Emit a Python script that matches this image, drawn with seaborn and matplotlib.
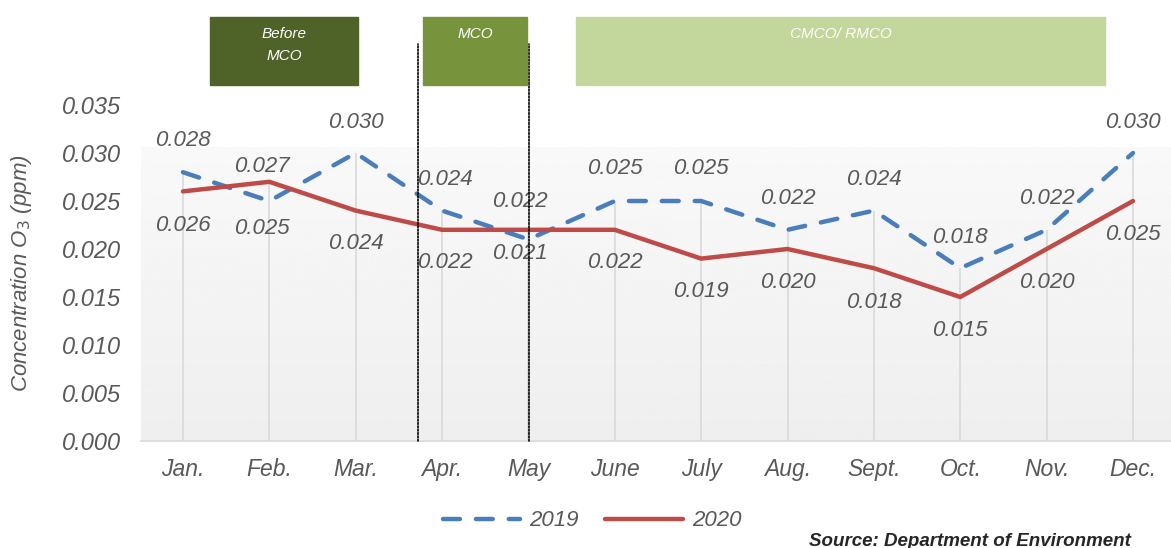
import numpy as np
import pandas as pd
import seaborn as sns
import matplotlib.pyplot as plt
import matplotlib.transforms as mtransforms

# Data
months = ["Jan.", "Feb.", "Mar.", "Apr.", "May", "June", "July", "Aug.", "Sept.", "Oct.", "Nov.", "Dec."]
o3_2019 = [0.028, 0.025, 0.030, 0.024, 0.021, 0.025, 0.025, 0.022, 0.024, 0.018, 0.022, 0.030]
o3_2020 = [0.026, 0.027, 0.024, 0.022, 0.022, 0.022, 0.019, 0.020, 0.018, 0.015, 0.020, 0.025]
years = ["2019", "2020"]
yticks = [0.000, 0.005, 0.010, 0.015, 0.020, 0.025, 0.030, 0.035]

# phase boxes above the plot: (label, start, end) in category units
phases = [("Before\nMCO", 0.31, 2.03), ("MCO", 2.78, 3.98), ("CMCO/ RMCO", 4.55, 10.68)]
phase_colors = ["#4f6228", "#77933c", "#c3d69b"]
mco_bounds = [2.72, 4.01]

# label offsets in pixels (dx, dy) -- style only
off_2019 = [(0, 32), (-7, -27), (0, 31), (3, 31), (-9, -14), (0, 32), (0, 32), (0, 31), (0, 31), (0, 31), (0, 31), (0, 31)]
off_2020 = [(0, -34), (-7, 15), (0, -33), (3, -33), (-9, 28), (0, -33), (0, -33), (0, -33), (0, -34), (0, -33), (0, -33), (0, -34)]

df = pd.DataFrame({
    "month": months * 2,
    "o3": o3_2019 + o3_2020,
    "year": [years[0]] * 12 + [years[1]] * 12,
})

sns.set_style("white")
plt.rcParams["font.family"] = ["Liberation Sans", "DejaVu Sans"]
plt.rcParams["lines.dash_capstyle"] = "round"

grey = "#595959"
fig = plt.figure(figsize=(11.71, 5.48), dpi=100)
ax = fig.add_axes([141 / 1171, 1 - 441 / 548, 1030 / 1171, 336 / 548])

x0, x1 = -0.486, 11.44
# gradient background of the plot area
grad = np.linspace(0.975, 0.935, 200).reshape(-1, 1)
ax.imshow(grad, cmap="gray", vmin=0, vmax=1, extent=[x0, x1, 0, 0.0306],
          aspect="auto", origin="upper", zorder=0)

# drop lines
tops = np.maximum(o3_2019, o3_2020)
ax.vlines(range(len(months)), 0, tops, color="#d9d9d9", lw=1.2, zorder=1)

sns.lineplot(data=df, x="month", y="o3", hue="year", style="year", sort=False,
             palette={"2019": "#4a7ebb", "2020": "#be4b48"},
             dashes={"2019": (3.8, 3.6), "2020": ""}, linewidth=3.2,
             ax=ax, legend=True, zorder=3)
handles, labels = ax.get_legend_handles_labels()
ax.get_legend().remove()

# data labels
for vals, offs in [(o3_2019, off_2019), (o3_2020, off_2020)]:
    for i, (v, (dx, dy)) in enumerate(zip(vals, offs)):
        ax.annotate(f"{v:.3f}", (i, v), xytext=(dx * 0.72, dy * 0.72), textcoords="offset points",
                    ha="center", va="center", fontsize=16, style="italic", color=grey, zorder=4)

ax.set_xlim(x0, x1)
ax.set_ylim(0, 0.035)
ax.set_yticks(yticks)
ax.set_yticklabels([f"{t:.3f}" for t in yticks], fontsize=17, style="italic", color=grey)
ax.set_xticks(range(len(months)))
ax.set_xticklabels(months, fontsize=16.5, style="italic", color=grey)
ax.tick_params(length=0, pad=12)
ax.tick_params(axis="y", pad=14)
ax.set_xlabel("")
ax.set_ylabel("Concentration O$_3$ (ppm)", fontsize=16, style="italic", color=grey)
ax.yaxis.set_label_coords(-0.104, 0.5)
for s in ["top", "right", "left"]:
    ax.spines[s].set_visible(False)
ax.spines["bottom"].set_color("#d9d9d9")
ax.spines["bottom"].set_linewidth(1.2)

# phase boxes and MCO boundaries
trans = mtransforms.blended_transform_factory(ax.transData, fig.transFigure)
for (name, a, b), c in zip(phases, phase_colors):
    fig.patches.append(plt.Rectangle((a, 1 - 85 / 548), b - a, 68 / 548, transform=trans,
                                     color=c, zorder=1))
    fig.text((a + b) / 2, 1 - 27 / 548, name, transform=trans, ha="center", va="top",
             fontsize=11, style="italic", color="white", linespacing=1.75)
for xb in mco_bounds:
    ax.plot([xb, xb], [0, 0.0414], ls=(0, (1, 1)), color="black", lw=1.2,
            clip_on=False, zorder=5)

fig.legend(handles, labels, loc="center", bbox_to_anchor=(592 / 1171, 1 - 521 / 548), ncol=2,
           frameon=False, handlelength=3.5, columnspacing=1.2, handletextpad=0.4,
           prop={"size": 16, "style": "italic"}, labelcolor=grey)

fig.text(1131 / 1171, 1 - 541 / 548, "Source: Department of Environment", ha="right", va="center",
         fontsize=13.5, weight="bold", style="italic")

fig.savefig("out.png", dpi=100)
